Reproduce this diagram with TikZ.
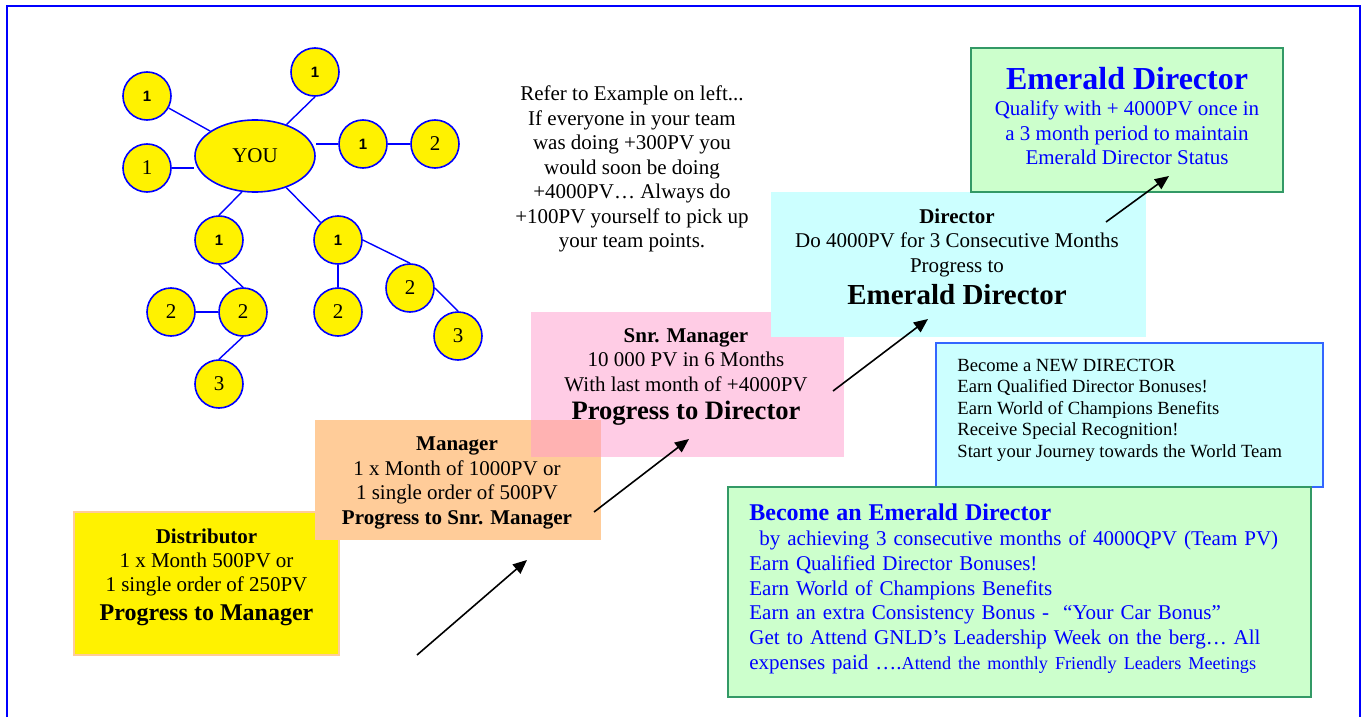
\documentclass[tikz,border=0pt]{standalone}
\usepackage{fontspec}
\setmainfont{Liberation Serif}
\newfontfamily\sansbold{Liberation Sans}
\usepackage{tikz}
\usetikzlibrary{shapes.geometric}
\usetikzlibrary{arrows.meta}
\definecolor{peach}{HTML}{FFCC99}
\definecolor{rosefill}{HTML}{FF99CC}
\definecolor{palecyan}{HTML}{CCFFFF}
\definecolor{palegreen}{HTML}{CCFFCC}
\definecolor{edgegreen}{HTML}{339966}
\definecolor{edgeblue}{HTML}{3366FF}
\newcommand{\boldone}{{\sansbold\bfseries\fontsize{7.5}{8}\selectfont 1}}
\tikzset{
	youstyle/.style={ellipse,draw=blue,line width=0.8pt,fill=yellow,minimum width=60pt,minimum height=36pt,inner sep=0pt,font=\fontsize{10.5}{12}\selectfont},
	memberstyle/.style={circle,draw=blue,line width=0.8pt,fill=yellow,minimum size=24pt,inner sep=0pt,font=\fontsize{10.5}{12}\selectfont},
	linkstyle/.style={draw=blue,line width=0.7pt},
	boxstyle/.style={rectangle,inner sep=0pt},
	textstyle/.style={align=center,inner sep=0pt,font=\fontsize{10.5}{12.2}\selectfont},
	arrowstyle/.style={-{Triangle[length=7pt,width=6pt]},line width=0.8pt}
}
\begin{document}
\begin{tikzpicture}[x=0.5pt,y=-0.5pt]
		\useasboundingbox (0,0) rectangle (1364,717);
		\draw[blue,line width=1pt] (7,717) -- (7,6) -- (1360,6) -- (1360,717);
		% team tree
		\node[youstyle] (you) at (255,156) {YOU};
		\node[memberstyle] (t1) at (147,96) {\boldone};
		\node[memberstyle] (t2) at (315,72) {\boldone};
		\node[memberstyle] (t3) at (363,144) {\boldone};
		\node[memberstyle] (t4) at (435,144) {2};
		\node[memberstyle] (t5) at (147,168) {1};
		\node[memberstyle] (l1) at (219,240) {\boldone};
		\node[memberstyle] (l2) at (243,312) {2};
		\node[memberstyle] (l3) at (171,312) {2};
		\node[memberstyle] (l4) at (219,384) {3};
		\node[memberstyle] (r1) at (338,240) {\boldone};
		\node[memberstyle] (r2) at (338,312) {2};
		\node[memberstyle] (r3) at (410,288) {2};
		\node[memberstyle] (r4) at (458,336) {3};
		\draw[linkstyle] (you)--(t1);
		\draw[linkstyle] (you.45)--(t2.south);
		\draw[linkstyle] (t3)--(t3 -| you.east);
		\draw[linkstyle] (t3)--(t4);
		\draw[linkstyle] (t5)--(t5 -| you.west);
		\draw[linkstyle] (you.250)--(l1.north);
		\draw[linkstyle] (l1.south)--(l2.north);
		\draw[linkstyle] (l3)--(l2);
		\draw[linkstyle] (l2.south)--(l4.north);
		\draw[linkstyle] (you)--(r1);
		\draw[linkstyle] (r1)--(r2);
		\draw[linkstyle] (r1.east)--(r3.north);
		\draw[linkstyle] (r3.east)--(r4.north);
		\node[textstyle,font=\fontsize{10.5}{12.25}\selectfont] (note) at (632,169) {Refer to Example on left...\\ If everyone in your team\\ was doing +300PV you\\ would soon be doing\\ +4000PV\ldots{} Always do\\ +100PV yourself to pick up\\ your team points.};
		% stages
		\node[boxstyle,fill=yellow,draw=peach,line width=0.75pt,minimum width=132.5pt,minimum height=71.5pt] (dist) at (206.5,583.5) {};
		\node[textstyle] (disttext) at (206.5,577) {\textbf{Distributor}\\ 1 x Month 500PV or\\ 1 single order of 250PV\\[2pt] {\fontsize{12}{14}\selectfont\bfseries Progress to Manager}};
		\node[boxstyle,fill=peach,minimum width=143pt,minimum height=60pt] (mgr) at (458,480) {};
		\node[textstyle] (mgrtext) at (457,483) {\textbf{Manager}\\ 1 x Month of 1000PV or\\ 1 single order of 500PV\\ \textbf{Progress to Snr. Manager}};
		\node[boxstyle,fill=rosefill,fill opacity=0.5,minimum width=156.5pt,minimum height=72.5pt] (snr) at (687.5,384.5) {};
		\node[textstyle] (snrtext) at (686,377) {\textbf{Snr. Manager}\\ 10 000 PV in 6 Months\\ With last month of +4000PV\\[2pt] {\fontsize{13.3}{15}\selectfont\bfseries Progress to Director}};
		\node[boxstyle,fill=palecyan,minimum width=187.5pt,minimum height=72.5pt] (dir) at (958.5,264.5) {};
		\node[textstyle] (dirtext) at (957,257) {\textbf{Director}\\ Do 4000PV for 3 Consecutive Months\\ Progress to\\[3pt] {\fontsize{14.5}{16}\selectfont\bfseries Emerald Director}};
		\node[boxstyle,fill=palegreen,draw=edgegreen,line width=1pt,minimum width=156pt,minimum height=72pt] (emer) at (1127,120) {};
		\node[textstyle,text=blue] (emertext) at (1127,116) {{\fontsize{16}{18}\selectfont\bfseries Emerald Director}\\[1pt] Qualify with + 4000PV once in\\ a 3 month period to maintain\\ Emerald Director Status};
		\node[boxstyle,fill=palecyan,draw=edgeblue,line width=1pt,minimum width=193.5pt,minimum height=72pt] (newdir) at (1129.5,415) {};
		\node[textstyle,align=left,anchor=west,font=\fontsize{9.3}{10.75}\selectfont] (newdirtext) at (957,410) {Become a NEW DIRECTOR\\ Earn Qualified Director Bonuses!\\ Earn World of Champions Benefits\\ Receive Special Recognition!\\ Start your Journey towards the World Team};
		\node[boxstyle,fill=palegreen,draw=edgegreen,line width=1pt,minimum width=291.5pt,minimum height=105pt] (bonus) at (1019.5,592) {};
		\node[textstyle,align=left,anchor=west,text width=270pt,text=blue,font=\fontsize{10.5}{12.4}\selectfont] (bonustext) at (749,589) {{\fontsize{12}{14}\selectfont\bfseries Become an Emerald Director}\\ \hspace*{5pt}by achieving 3 consecutive months of 4000QPV (Team PV)\\ Earn Qualified Director Bonuses!\\ Earn World of Champions Benefits\\ Earn an extra Consistency Bonus -\ \ “Your Car Bonus”\\ \makebox[270pt][s]{Get to Attend GNLD’s Leadership Week on the berg… All}\\ expenses paid ….{\fontsize{9.1}{12}\selectfont Attend the monthly Friendly Leaders Meetings}};
		% arrows
		\coordinate (a1s) at (417,655);
		\coordinate (a1e) at (527,560);
		\coordinate (a2s) at (594,512);
		\coordinate (a2e) at (689,439);
		\coordinate (a3s) at (833,391);
		\coordinate (a3e) at (928,319);
		\coordinate (a4s) at (1106,222);
		\coordinate (a4e) at (1169,176);
		\draw[arrowstyle] (a1s)--(a1e);
		\draw[arrowstyle] (a2s)--(a2e);
		\draw[arrowstyle] (a3s)--(a3e);
		\draw[arrowstyle] (a4s)--(a4e);
\end{tikzpicture}
\end{document}
